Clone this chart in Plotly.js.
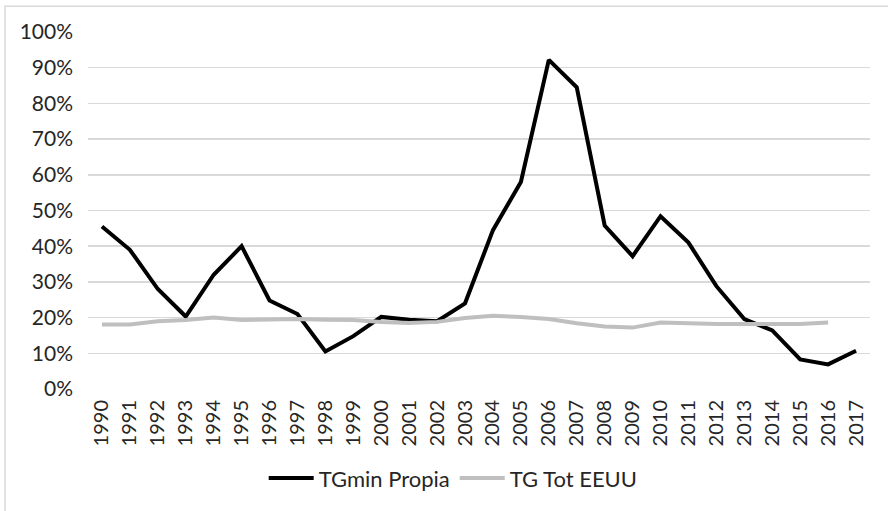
<!DOCTYPE html>
<html>
<head>
<meta charset="utf-8">
<script src="https://cdn.plot.ly/plotly-3.0.1.min.js"></script>
<style>
  html, body { margin: 0; padding: 0; background: #fff; }
  #chart { width: 888px; height: 511px; }
</style>
</head>
<body>
<div id="chart"></div>
<script>
const years = ["1990","1991","1992","1993","1994","1995","1996","1997","1998","1999",
  "2000","2001","2002","2003","2004","2005","2006","2007","2008","2009",
  "2010","2011","2012","2013","2014","2015","2016","2017"];
const tgminPropia = [45.5, 39, 28, 20.3, 32, 40, 24.8, 21, 10.5, 14.8,
  20.2, 19.4, 19, 24, 44.5, 58, 92.2, 84.5, 45.8, 37.2,
  48.4, 41, 28.8, 19.6, 16.4, 8.3, 6.9, 10.7];
const tgTotEEUU = [18.1, 18.1, 19, 19.3, 20, 19.3, 19.5, 19.6, 19.4, 19.3,
  18.8, 18.5, 18.8, 19.9, 20.5, 20.2, 19.6, 18.4, 17.5, 17.2,
  18.6, 18.3, 18.2, 18.2, 18.2, 18.2, 18.6, null];
const yTickVals = [0,10,20,30,40,50,60,70,80,90,100];
const yTickText = yTickVals.map(v => v + "%");

const fontFam = "Lato, 'Open Sans', sans-serif";

const traces = [
  { x: years, y: tgminPropia, type: "scatter", mode: "lines", name: "TGmin Propia",
    line: { color: "#000000", width: 4 } },
  { x: years, y: tgTotEEUU, type: "scatter", mode: "lines", name: "TG Tot EEUU",
    line: { color: "#bfbfbf", width: 4 }, connectgaps: false }
];

const layout = {
  width: 888, height: 511,
  margin: { l: 88, r: 18, t: 32, b: 118 },
  paper_bgcolor: "#ffffff", plot_bgcolor: "#ffffff",
  font: { family: fontFam, color: "#262626", size: 20 },
  showlegend: true,
  legend: { orientation: "h", x: 0.467, xanchor: "center", y: -0.25, yanchor: "middle",
    font: { family: fontFam, size: 22, color: "#262626" }, itemwidth: 45, traceorder: "normal" },
  xaxis: { type: "category", tickangle: -90, showgrid: false, zeroline: false,
    showline: false, ticks: "", ticklabelstandoff: 6,
    tickfont: { family: fontFam, size: 20, color: "#262626" },
    range: [-0.5, 27.5], fixedrange: true },
  yaxis: { range: [0, 100], tickvals: yTickVals, ticktext: yTickText,
    showgrid: true, gridcolor: "#d9d9d9", gridwidth: 1.5, zeroline: false, showline: false,
    ticks: "", ticklabelstandoff: 14, tickfont: { family: fontFam, size: 21, color: "#262626" },
    fixedrange: true },
  shapes: [
    { type: "rect", xref: "paper", yref: "paper", x0: -0.1061, x1: 1.5, y0: -1, y1: 1.072,
      line: { color: "#d9d9d9", width: 1.5 }, fillcolor: "rgba(0,0,0,0)", layer: "below" }
  ]
};

Plotly.newPlot("chart", traces, layout, { displayModeBar: false, staticPlot: true });
</script>
</body>
</html>
